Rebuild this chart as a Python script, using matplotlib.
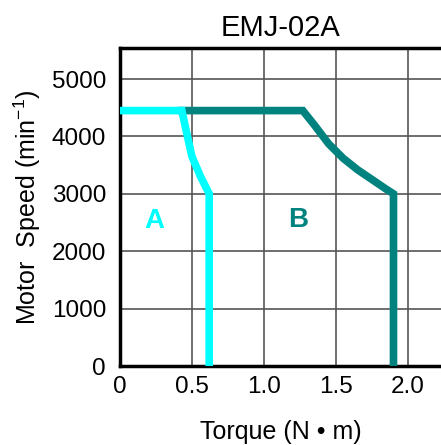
import matplotlib
matplotlib.use("Agg")
import matplotlib.pyplot as plt

plt.rcParams['font.family'] = ['Liberation Sans', 'DejaVu Sans']
plt.rcParams['mathtext.fontset'] = 'custom'
plt.rcParams['mathtext.rm'] = 'Liberation Sans'
plt.rcParams['mathtext.it'] = 'Liberation Sans'

# curve A (cyan) and curve B (teal): torque [N*m], speed [min^-1]
torque_a = [0.0, 0.43, 0.46, 0.50, 0.56, 0.62, 0.62]
speed_a = [4450, 4450, 4100, 3650, 3300, 3000, 0]

torque_b = [0.43, 1.27, 1.35, 1.45, 1.55, 1.65, 1.75, 1.85, 1.90, 1.90]
speed_b = [4450, 4450, 4200, 3870, 3620, 3420, 3250, 3080, 3000, 0]

x_ticks = [0, 0.5, 1.0, 1.5, 2.0]
x_labels = ["0", "0.5", "1.0", "1.5", "2.0"]
y_ticks = [0, 1000, 2000, 3000, 4000, 5000]

fig = plt.figure(figsize=(4.41, 4.45), dpi=100)
ax = fig.add_axes([0.272, 0.1775, 0.728, 0.7146])

ax.plot(torque_b, speed_b, color='#00827f', lw=5.5, solid_joinstyle='miter', zorder=3)
ax.plot(torque_a, speed_a, color='#00ffff', lw=5.5, solid_joinstyle='miter', zorder=4)

ax.text(0.24, 2520, "A", color='#00ffff', fontsize=20, fontweight='bold', ha='center', va='center')
ax.text(1.24, 2540, "B", color='#00827f', fontsize=20, fontweight='bold', ha='center', va='center')

ax.set_xlim(0, 2.23)
ax.set_ylim(0, 5540)
ax.set_xticks(x_ticks)
ax.set_xticklabels(x_labels)
ax.set_yticks(y_ticks)
ax.tick_params(axis='y', length=0, labelsize=17.5, pad=10)
ax.tick_params(axis='x', length=0, labelsize=17.5, pad=7)
ax.grid(True, color='#555555', lw=1.2)
ax.set_axisbelow(True)

for s in ['left', 'bottom', 'top']:
    ax.spines[s].set_linewidth(2.5)
ax.spines['right'].set_visible(False)

ax.set_title("EMJ-02A", fontsize=21, pad=9)
ax.set_xlabel("Torque (N \u2022 m)", fontsize=18, labelpad=16)
ax.set_ylabel(r"Motor  Speed (min$^{-1}$)", fontsize=18, labelpad=6)

fig.savefig("out.png", dpi=100)
